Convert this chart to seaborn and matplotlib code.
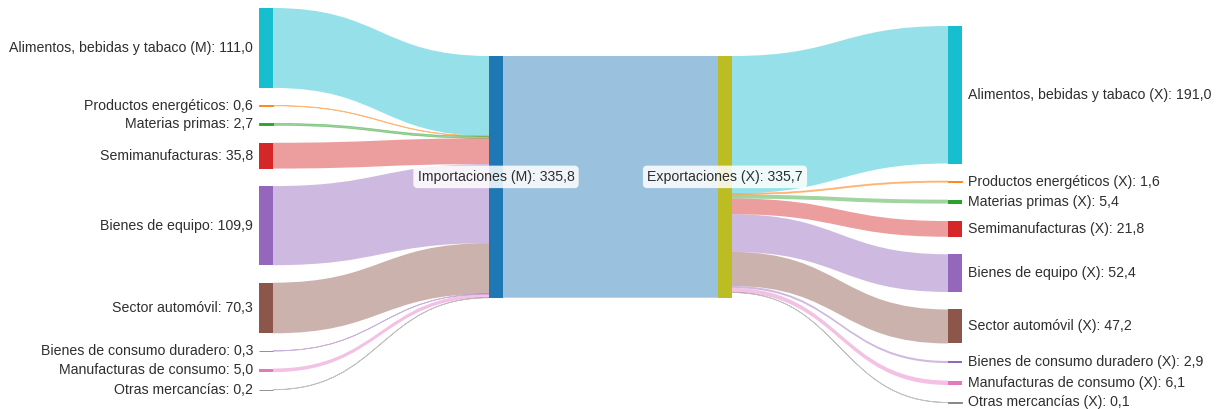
import matplotlib
matplotlib.use("Agg")
import matplotlib.pyplot as plt
from matplotlib.path import Path
from matplotlib.patches import PathPatch, Rectangle
import seaborn as sns

# sectores de importación (izquierda) y exportación (derecha)
left_labels = ["Alimentos, bebidas y tabaco (M)", "Productos energéticos", "Materias primas",
               "Semimanufacturas", "Bienes de equipo", "Sector automóvil",
               "Bienes de consumo duradero", "Manufacturas de consumo", "Otras mercancías"]
left_values = [111.0, 0.6, 2.7, 35.8, 109.9, 70.3, 0.3, 5.0, 0.2]

right_labels = ["Alimentos, bebidas y tabaco (X)", "Productos energéticos (X)", "Materias primas (X)",
                "Semimanufacturas (X)", "Bienes de equipo (X)", "Sector automóvil (X)",
                "Bienes de consumo duradero (X)", "Manufacturas de consumo (X)", "Otras mercancías (X)"]
right_values = [191.0, 1.6, 5.4, 21.8, 52.4, 47.2, 2.9, 6.1, 0.1]

hub_labels = ["Importaciones (M)", "Exportaciones (X)"]
hub_values = [335.8, 335.7]
flow_mx = 335.7

sns.set_style("white")
plt.rcParams['font.family'] = ['Liberation Sans', 'DejaVu Sans']

pal = sns.color_palette("tab10")
sector_colors = [pal[9], pal[1], pal[2], pal[3], pal[4], pal[5], pal[4], pal[6], pal[7]]
hub_colors = [pal[0], pal[8]]

W, H = 1218, 409
k = 0.72          # px por unidad
pad = 17.5
node_w = 14
col_x = [259, 489, 718, 948]
col_top = [8, 56, 56, 26]
alpha = 0.45
txt = "#2e2e2e"
fs = 10.2


def fmt(v):
    return f"{v:.1f}".replace(".", ",")


def link(ax, x0, y0a, y0b, x1, y1a, y1b, color):
    xm = (x0 + x1) / 2
    verts = [(x0, y0a), (xm, y0a), (xm, y1a), (x1, y1a), (x1, y1b),
             (xm, y1b), (xm, y0b), (x0, y0b), (x0, y0a)]
    codes = [Path.MOVETO, Path.CURVE4, Path.CURVE4, Path.CURVE4, Path.LINETO,
             Path.CURVE4, Path.CURVE4, Path.CURVE4, Path.CLOSEPOLY]
    # los enlaces muy finos se dibujan con borde para que se vean
    thin = (y0b - y0a) < 2
    ax.add_patch(PathPatch(Path(verts, codes), fc=color, ec=color if thin else "none",
                           lw=0.6 if thin else 0, alpha=alpha))


def node(ax, x, y, h, color):
    thin = h < 2
    ax.add_patch(Rectangle((x, y), node_w, h, fc=color, ec=color if thin else "none",
                           lw=0.6 if thin else 0))


fig, ax = plt.subplots(figsize=(12.18, 4.09), dpi=100)
ax.set_position([0, 0, 1, 1])
ax.set_xlim(0, W)
ax.set_ylim(H, 0)
ax.axis("off")

# izquierda -> importaciones
y = col_top[0]
ym = col_top[1]
for lab, v, c in zip(left_labels, left_values, sector_colors):
    h = v * k
    link(ax, col_x[0] + node_w, y, y + h, col_x[1], ym, ym + h, c)
    node(ax, col_x[0], y, h, c)
    ax.text(col_x[0] - 6, y + h / 2, f"{lab}: {fmt(v)}", ha="right", va="center",
            fontsize=fs, color=txt)
    y += h + pad
    ym += h

# importaciones -> exportaciones
link(ax, col_x[1] + node_w, col_top[1], col_top[1] + flow_mx * k,
     col_x[2], col_top[2], col_top[2] + flow_mx * k, hub_colors[0])

# exportaciones -> derecha
y = col_top[3]
ym = col_top[2]
for lab, v, c in zip(right_labels, right_values, sector_colors):
    h = v * k
    link(ax, col_x[2] + node_w, ym, ym + h, col_x[3], y, y + h, c)
    node(ax, col_x[3], y, h, c)
    ax.text(col_x[3] + node_w + 6, y + h / 2, f"{lab}: {fmt(v)}", ha="left", va="center",
            fontsize=fs, color=txt)
    y += h + pad
    ym += h

for i, (lab, v) in enumerate(zip(hub_labels, hub_values)):
    h = v * k
    node(ax, col_x[1 + i], col_top[1 + i], h, hub_colors[i])
    ax.text(col_x[1 + i] + node_w / 2, col_top[1 + i] + h / 2, f"{lab}: {fmt(v)}",
            ha="center", va="center", fontsize=fs, color=txt,
            bbox=dict(boxstyle="round,pad=0.3,rounding_size=0.3", fc="white", ec="none", alpha=0.85))

fig.savefig("out.png", dpi=100)
